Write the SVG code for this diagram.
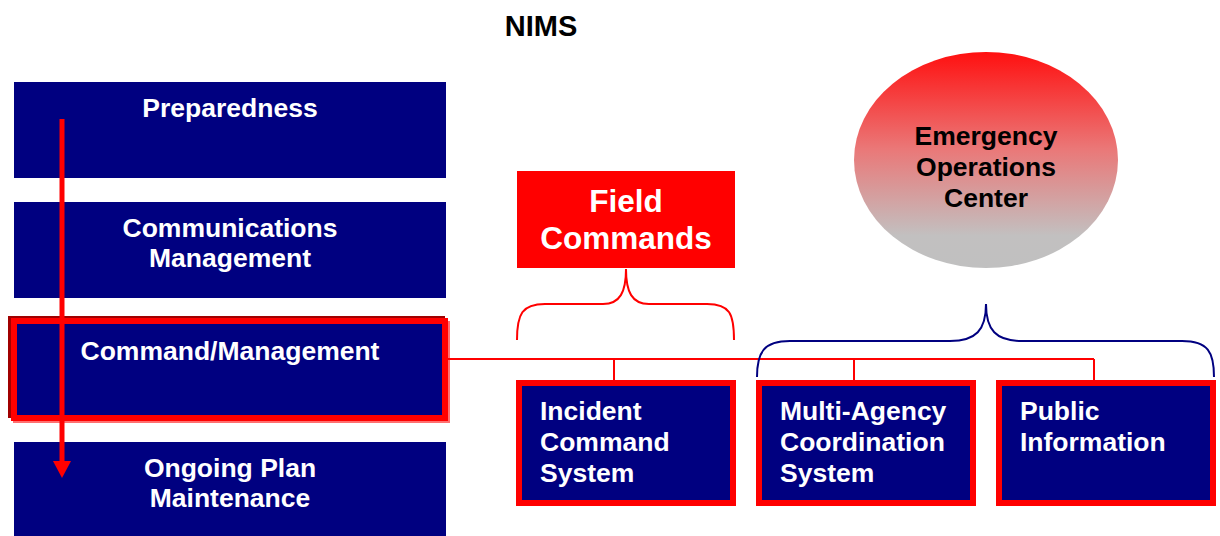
<svg xmlns="http://www.w3.org/2000/svg" width="1220" height="536" viewBox="0 0 1220 536">
<style>
.box{fill:#000080}
.rbox{fill:#000080;stroke:#FF0000;stroke-width:6}
.t{font-family:"Liberation Sans",Arial,sans-serif;font-weight:bold;font-size:26.5px;fill:#FFFFFF}
.c{text-anchor:middle}
.conn{fill:none;stroke:#FF0000;stroke-width:2}
</style>
<defs>
<linearGradient id="eoc" x1="0" y1="0" x2="0" y2="1">
<stop offset="0" stop-color="#FF1010"/>
<stop offset="0.45" stop-color="#EA7878"/>
<stop offset="0.85" stop-color="#C2C0C0"/>
<stop offset="1" stop-color="#C0C0C0"/>
</linearGradient>
</defs>
<rect width="1220" height="536" fill="#FFFFFF"/>
<text x="541" y="36" class="t c" style="fill:#000000;font-size:29px">NIMS</text>

<g id="preparedness">
<rect class="box" x="14" y="82" width="432" height="96"/>
<text x="230" y="117" class="t c">Preparedness</text>
</g>
<g id="communications">
<rect class="box" x="14" y="202" width="432" height="96"/>
<text x="230" y="237" class="t c">Communications</text>
<text x="230" y="267" class="t c">Management</text>
</g>
<g id="command">
<rect x="8" y="316" width="437" height="102" fill="#A00000"/>
<rect x="13" y="321" width="437" height="102" fill="#FF7070"/>
<rect class="rbox" x="14" y="321" width="431" height="97"/>
<text x="230" y="360" class="t c">Command/Management</text>
</g>
<g id="ongoing">
<rect class="box" x="14" y="442" width="432" height="94"/>
<text x="230" y="477" class="t c">Ongoing Plan</text>
<text x="230" y="507" class="t c">Maintenance</text>
</g>

<g id="field-commands">
<rect x="517" y="171" width="218" height="97" fill="#FF0000"/>
<text x="626" y="212" class="t c" style="font-size:31.5px">Field</text>
<text x="626" y="249" class="t c" style="font-size:31.5px">Commands</text>
</g>
<g id="eoc-node">
<ellipse cx="986" cy="160" rx="132" ry="108" fill="url(#eoc)"/>
<text x="986" y="145" class="t c" style="fill:#000000">Emergency</text>
<text x="986" y="176" class="t c" style="fill:#000000">Operations</text>
<text x="986" y="207" class="t c" style="fill:#000000">Center</text>
</g>

<g id="ics">
<rect class="rbox" x="519" y="383" width="214" height="120"/>
<text x="540" y="420" class="t">Incident</text>
<text x="540" y="451" class="t">Command</text>
<text x="540" y="482" class="t">System</text>
</g>
<g id="macs">
<rect class="rbox" x="759" y="383" width="214" height="120"/>
<text x="780" y="420" class="t">Multi-Agency</text>
<text x="780" y="451" class="t">Coordination</text>
<text x="780" y="482" class="t">System</text>
</g>
<g id="public-info">
<rect class="rbox" x="999" y="383" width="214" height="120"/>
<text x="1020" y="420" class="t">Public</text>
<text x="1020" y="451" class="t">Information</text>
</g>

<g id="connectors">
<path class="conn" d="M448,359 H1094 M614,359 V380 M854,359 V380 M1094,359 V380"/>
<path class="conn" d="M517,340 C517,314 522,304 545,304 L603,304 C620,304 626,292 626,269 C626,292 632,304 649,304 L707,304 C730,304 734,314 734,340"/>
<path fill="none" stroke="#000080" stroke-width="2" d="M757,377 C757,352 764,341 790,341 L950,341 C976,341 986,330 986,304 C986,330 996,341 1022,341 L1182,341 C1208,341 1214,352 1214,377"/>
<line x1="62" y1="119" x2="62" y2="462" stroke="#FF0000" stroke-width="5"/>
<path d="M53,461 L71,461 L62,478 Z" fill="#FF0000"/>
</g>
</svg>
